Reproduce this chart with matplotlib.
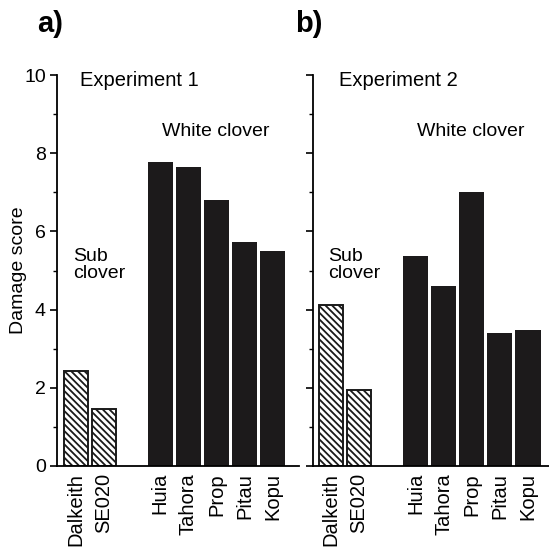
import numpy as np
import matplotlib
matplotlib.use("Agg")
import matplotlib.pyplot as plt

plt.rcParams['font.family'] = ['Liberation Sans', 'DejaVu Sans']
plt.rcParams['hatch.linewidth'] = 1.3

cultivars = ['Dalkeith', 'SE020', 'Huia', 'Tahora', 'Prop', 'Pitau', 'Kopu']
positions = [0, 1, 3, 4, 5, 6, 7]
exp1 = [2.43, 1.46, 7.77, 7.65, 6.80, 5.73, 5.51]
exp2 = [4.13, 1.94, 5.38, 4.60, 7.02, 3.39, 3.48]
n_sub = 2  # first two are sub clover

fig = plt.figure(figsize=(5.49, 5.47), dpi=100)
ax1 = fig.add_axes([57/549, 1-466/547, 242/549, 391/547])
ax2 = fig.add_axes([312.7/549, 1-466/547, 236.3/549, 391/547])

def draw(ax, vals, title, xlim):
    for i, (p, v) in enumerate(zip(positions, vals)):
        if i < n_sub:
            ax.bar(p, v, width=0.88, color='white', edgecolor='#1a1a1a',
                   hatch='\\' * 5, linewidth=1.4)
        else:
            ax.bar(p, v, width=0.9, color='#1c1a1b', edgecolor='none')
    ax.set_xlim(*xlim)
    ax.set_ylim(0, 10)
    ax.spines['top'].set_visible(False)
    ax.spines['right'].set_visible(False)
    ax.spines['left'].set_linewidth(1.3)
    ax.spines['bottom'].set_linewidth(1.3)
    ax.set_xticks(positions)
    ax.set_xticklabels(cultivars, rotation=90, fontsize=14.5)
    ax.tick_params(axis='x', length=0, pad=5)
    ax.set_yticks([0, 2, 4, 6, 8, 10])
    ax.set_yticks([1, 3, 5, 7, 9], minor=True)
    ax.tick_params(axis='y', which='major', length=5, width=1.2, labelsize=14, pad=3)
    ax.tick_params(axis='y', which='minor', length=3, width=1.0)
    ax.text(-0.1, 5.14, 'Sub\nclover', fontsize=14, ha='left', va='center',
            linespacing=0.95)
    ax.text(4.98, 8.56, 'White clover', fontsize=14, ha='center', va='center')
    ax.text(title[1], 9.85, title[0], fontsize=14.5, ha='left', va='center')

draw(ax1, exp1, ('Experiment 1', 0.14), (-0.677, 7.94))
draw(ax2, exp2, ('Experiment 2', 0.29), (-0.65, 7.75))
ax2.set_yticklabels([])
ax1.set_ylabel('Damage score', fontsize=14)
ax1.yaxis.set_label_coords(-0.125, 0.5)

fig.text(37/549, 1-24/547, 'a)', fontsize=21, fontweight='bold', ha='left', va='center')
fig.text(295/549, 1-24/547, 'b)', fontsize=21, fontweight='bold', ha='left', va='center')

fig.savefig('out.png', dpi=100)
